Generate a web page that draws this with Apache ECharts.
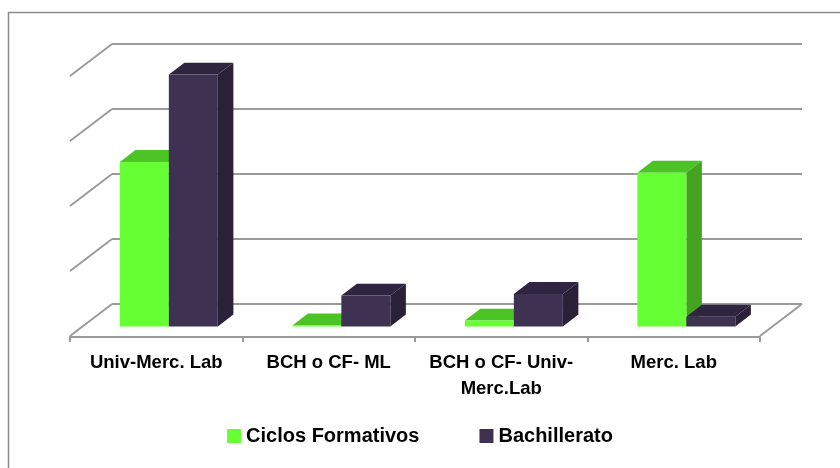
<!DOCTYPE html>
<html>
<head>
<meta charset="utf-8">
<script src="https://cdn.jsdelivr.net/npm/echarts@6/dist/echarts.min.js"></script>
<style>
  html, body { margin: 0; padding: 0; background: #ffffff; }
  #chart { width: 840px; height: 468px; }
</style>
</head>
<body>
<div id="chart"></div>
<script>
// Data
const categories = ['Univ-Merc. Lab', 'BCH o CF- ML', 'BCH o CF- Univ-\nMerc.Lab', 'Merc. Lab'];
const seriesNames = ['Ciclos Formativos', 'Bachillerato'];
const ciclosFormativos = [50.6, 0.3, 1.8, 47.3];
const bachillerato = [77.5, 9.5, 10.0, 3.0];
const gridValues = [0, 20, 40, 60, 80];

// Oblique floor depth: front edge relative to the back wall
const DEPTH_DX = -42;
const DEPTH_DY = 32;
const BAR_FRONT = 0.70;   // depth fraction of the bars' front face
const BAR_BACK = 0.33;    // depth fraction of the bars' back face
const BAR_WIDTH = 0.284;  // share of a category band per bar

const faceColors = [
  { front: '#66ff33', top: '#4cc425', side: '#45a322' },
  { front: '#3f3152', top: '#2f2541', side: '#2a2138' }
];
const lineColor = '#9a9a9a';
const FONT = '"Liberation Sans", Arial, sans-serif';

// Back-wall gridlines plus the left (and floor right) diagonals
function wallRenderer(params, api) {
  const v = api.value(0);
  const y = api.coord([0, v])[1];
  const cs = params.coordSys;
  const style = { stroke: lineColor, lineWidth: 2, fill: null };
  const children = [
    { type: 'line', shape: { x1: cs.x, y1: y, x2: cs.x + cs.width, y2: y }, style },
    { type: 'line', shape: { x1: cs.x, y1: y, x2: cs.x + DEPTH_DX, y2: y + DEPTH_DY }, style }
  ];
  if (v === 0) {
    const xr = cs.x + cs.width;
    children.push({ type: 'line', shape: { x1: xr, y1: y, x2: xr + DEPTH_DX, y2: y + DEPTH_DY }, style });
  }
  return { type: 'group', children };
}

// 3D-looking column: top, side, front faces
function barRenderer(si) {
  return function (params, api) {
    const cat = api.value(0);
    const val = api.value(1);
    const top = api.coord([cat, val]);
    const base = api.coord([cat, 0]);
    const band = api.size([1, 0])[0];
    const w = band * BAR_WIDTH;
    const x0 = si === 0 ? top[0] - w : top[0];
    const fx = DEPTH_DX * BAR_FRONT, fy = DEPTH_DY * BAR_FRONT;
    const dx = DEPTH_DX * (BAR_BACK - BAR_FRONT), dy = DEPTH_DY * (BAR_BACK - BAR_FRONT);
    const L = x0 + fx, R = x0 + w + fx, T = top[1] + fy, B = base[1] + fy;
    const c = faceColors[si];
    return {
      type: 'group',
      children: [
        { type: 'polygon', shape: { points: [[L, T], [R, T], [R + dx, T + dy], [L + dx, T + dy]] }, style: { fill: c.top } },
        { type: 'polygon', shape: { points: [[R, T], [R + dx, T + dy], [R + dx, B + dy], [R, B]] }, style: { fill: c.side } },
        { type: 'rect', shape: { x: L, y: T, width: w, height: Math.max(B - T, 0.5) }, style: { fill: c.front } }
      ]
    };
  };
}

const chart = echarts.init(document.getElementById('chart'), null, { renderer: 'canvas' });

const option = {
  animation: false,
  backgroundColor: '#ffffff',
  color: [faceColors[0].front, faceColors[1].front],
  graphic: [{
    type: 'rect',
    shape: { x: 8.5, y: 12.5, width: 900, height: 500 },
    style: { fill: null, stroke: '#8a8a8a', lineWidth: 1.5 },
    silent: true
  }],
  legend: {
    data: seriesNames.map((n) => ({ name: n, icon: 'rect' })),
    left: 'center',
    top: 421,
    itemWidth: 14,
    itemHeight: 14,
    itemGap: 60,
    textStyle: { fontFamily: FONT, fontWeight: 'bold', fontSize: 20, color: '#000000' }
  },
  grid: [
    { left: 112, right: 38, top: 44, bottom: 164 },
    { left: 70, right: 80, top: 76, bottom: 131 }
  ],
  xAxis: [
    { type: 'category', gridIndex: 0, data: categories, show: false },
    {
      type: 'category', gridIndex: 1, data: categories,
      axisLine: { show: true, lineStyle: { color: lineColor, width: 2 } },
      axisTick: { show: true, length: 5, lineStyle: { color: lineColor, width: 2 } },
      axisLabel: {
        interval: 0, margin: 13, color: '#000000',
        fontFamily: FONT, fontWeight: 'bold', fontSize: 18.5, lineHeight: 26
      }
    }
  ],
  yAxis: [
    { type: 'value', gridIndex: 0, min: 0, max: 80, interval: 20, show: false, splitLine: { show: false } },
    { type: 'value', gridIndex: 1, min: 0, max: 80, interval: 20, show: false, splitLine: { show: false } }
  ],
  series: [
    {
      type: 'custom', name: '_walls', xAxisIndex: 0, yAxisIndex: 0,
      renderItem: wallRenderer,
      data: gridValues.map((v) => [v]),
      encode: { y: 0 },
      silent: true, z: 1
    },
    {
      type: 'custom', name: seriesNames[0], xAxisIndex: 0, yAxisIndex: 0,
      renderItem: barRenderer(0),
      itemStyle: { color: faceColors[0].front },
      data: ciclosFormativos.map((v, i) => [i, v]),
      encode: { x: 0, y: 1 },
      z: 3
    },
    {
      type: 'custom', name: seriesNames[1], xAxisIndex: 0, yAxisIndex: 0,
      renderItem: barRenderer(1),
      itemStyle: { color: faceColors[1].front },
      data: bachillerato.map((v, i) => [i, v]),
      encode: { x: 0, y: 1 },
      z: 4
    }
  ]
};

chart.setOption(option);
</script>
</body>
</html>
